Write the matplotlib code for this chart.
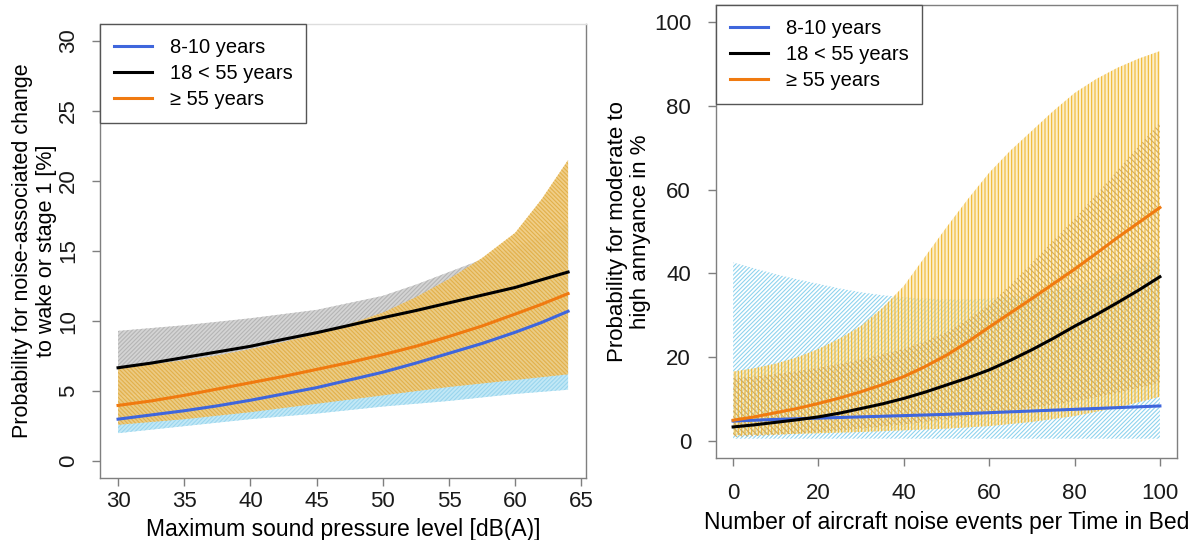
import numpy as np
import matplotlib.pyplot as plt

plt.rcParams['font.family'] = ['Liberation Sans', 'DejaVu Sans']
plt.rcParams['hatch.linewidth'] = 0.8

# ---- left panel: maximum sound pressure level ----
spl = [30, 32.5, 35, 37.5, 40, 42.5, 45, 47.5, 50, 52.5, 55, 57.5, 60, 62, 64]
kids_l = [3.0, 3.3, 3.6, 3.95, 4.35, 4.8, 5.25, 5.8, 6.35, 7.0, 7.7, 8.4, 9.2, 9.9, 10.7]
kids_l_lo = [2.0, 2.25, 2.5, 2.75, 3.0, 3.2, 3.4, 3.65, 3.9, 4.1, 4.3, 4.55, 4.8, 4.95, 5.1]
kids_l_hi = [4.4, 4.8, 5.2, 5.7, 6.2, 6.8, 7.5, 8.3, 9.2, 10.3, 11.4, 12.6, 14.0, 15.4, 17.0]
adult_l = [6.67, 7.0, 7.4, 7.8, 8.2, 8.7, 9.17, 9.7, 10.24, 10.75, 11.3, 11.85, 12.4, 12.95, 13.5]
adult_l_lo = [4.6, 4.95, 5.3, 5.65, 6.0, 6.45, 6.9, 7.35, 7.8, 8.25, 8.7, 9.25, 9.8, 10.4, 11.0]
adult_l_hi = [9.3, 9.5, 9.7, 9.95, 10.2, 10.5, 10.8, 11.3, 11.8, 12.6, 13.5, 14.4, 15.3, 16.1, 17.0]
old_l = [3.98, 4.3, 4.7, 5.15, 5.6, 6.05, 6.55, 7.05, 7.6, 8.2, 8.9, 9.65, 10.5, 11.2, 11.96]
old_l_lo = [2.6, 2.8, 3.0, 3.25, 3.5, 3.8, 4.1, 4.4, 4.7, 5.0, 5.3, 5.55, 5.8, 6.0, 6.2]
old_l_hi = [6.7, 6.9, 7.2, 7.55, 8.0, 8.5, 9.1, 9.8, 10.6, 11.7, 13.0, 14.5, 16.3, 18.7, 21.5]

# ---- right panel: number of aircraft noise events ----
events = [0, 5, 10, 15, 20, 25, 30, 35, 40, 45, 50, 55, 60, 65, 70, 75, 80, 85, 90, 95, 100]
kids_r = [4.8, 5.0, 5.2, 5.35, 5.5, 5.65, 5.8, 5.95, 6.1, 6.25, 6.4, 6.6, 6.8, 7.0,
          7.2, 7.4, 7.6, 7.8, 8.0, 8.2, 8.4]
kids_r_lo = [0.6] * 21
kids_r_hi = [42.6, 41.2, 39.8, 38.6, 37.5, 36.4, 35.5, 34.8, 34.3, 34.0, 33.8, 33.8,
             34.0, 34.4, 35.0, 35.9, 37.0, 38.4, 40.0, 41.9, 44.0]
adult_r = [3.4, 3.9, 4.5, 5.1, 5.8, 6.7, 7.8, 8.9, 10.2, 11.7, 13.4, 15.1, 17.0, 19.3,
           21.8, 24.5, 27.4, 30.1, 33.0, 36.0, 39.2]
adult_r_lo = [1.0, 1.2, 1.5, 1.8, 2.2, 2.6, 3.0, 3.5, 4.0, 4.6, 5.2, 5.8, 6.5, 7.2,
              8.0, 8.7, 9.5, 10.5, 11.5, 12.7, 14.0]
adult_r_hi = [15.0, 15.4, 16.0, 16.7, 17.5, 18.4, 19.5, 20.7, 22.0, 23.8, 26.0, 29.0,
              32.5, 37.3, 42.5, 47.8, 53.0, 58.7, 64.5, 70.3, 76.0]
old_r = [5.0, 5.8, 6.8, 7.8, 9.0, 10.3, 11.8, 13.5, 15.4, 17.8, 20.5, 23.7, 27.2, 30.6,
         34.0, 37.5, 41.0, 44.7, 48.5, 52.1, 55.7]
old_r_lo = [1.4, 1.5, 1.6, 1.75, 1.9, 2.05, 2.2, 2.4, 2.6, 2.8, 3.0, 3.3, 3.6, 4.1,
            4.6, 5.3, 6.0, 7.0, 8.0, 9.3, 10.6]
old_r_hi = [16.6, 17.4, 18.5, 20.0, 22.0, 24.5, 27.5, 31.8, 37.0, 44.0, 51.0, 57.7,
            64.0, 69.3, 74.0, 78.7, 83.0, 86.3, 89.0, 91.2, 93.0]

labels = ['8-10 years', '18 < 55 years', '\u2265 55 years']
c_kids, c_adult, c_old = '#3f66dc', 'black', '#f07a10'
frame = '#7f7f7f'

fig = plt.figure(figsize=(12.01, 5.4), dpi=100)
ax1 = fig.add_axes([0.0833, 0.1148, 0.4047, 0.8407])
ax2 = fig.add_axes([0.5962, 0.1519, 0.3838, 0.8389])


def band(ax, x, lo, hi, col, hatch, face='none', alpha=1.0):
    if face != 'none':
        ax.fill_between(x, lo, hi, facecolor=face, alpha=alpha, linewidth=0)
    ax.fill_between(x, lo, hi, facecolor='none', edgecolor=col,
                    hatch=hatch, linewidth=0)


# left
band(ax1, spl, adult_l_lo, adult_l_hi, '#b5b5b5', '////////', '#d4d4d4')
band(ax1, spl, kids_l_lo, kids_l_hi, '#9ad6ee', '////////', '#c2e8f6')
band(ax1, spl, old_l_lo, old_l_hi, '#e2b04a', '\\\\\\\\\\\\\\\\', '#efcb7e', 0.93)
ax1.plot(spl, kids_l, color=c_kids, lw=2.2, label=labels[0])
ax1.plot(spl, adult_l, color=c_adult, lw=2.2, label=labels[1])
ax1.plot(spl, old_l, color=c_old, lw=2.2, label=labels[2])
ax1.set_xlim(28.64, 65.36)
ax1.set_ylim(-1.2, 31.2)
ax1.set_xticks(range(30, 66, 5))
ax1.set_yticks(range(0, 31, 5))
ax1.tick_params(axis='y', labelrotation=90, pad=9)
for t in ax1.get_yticklabels():
    t.set_va('center')
ax1.set_xlabel('Maximum sound pressure level [dB(A)]', fontsize=16.5, labelpad=4)
ax1.set_ylabel('Probability for noise-associated change\nto wake or stage 1 [%]',
               fontsize=15.5, labelpad=1, linespacing=1.2)

# right
band(ax2, events, kids_r_lo, kids_r_hi, '#8fd3ee', '////////')
band(ax2, events, old_r_lo, old_r_hi, '#f0b830', '|||||', '#fbe2a4', 0.55)
band(ax2, events, adult_r_lo, adult_r_hi, '#d2aa5c', '\\\\\\\\\\\\')
ax2.plot(events, kids_r, color=c_kids, lw=2.2, label=labels[0])
ax2.plot(events, adult_r, color=c_adult, lw=2.2, label=labels[1])
ax2.plot(events, old_r, color=c_old, lw=2.2, label=labels[2])
ax2.set_xlim(-4, 104)
ax2.set_ylim(-4, 104)
ax2.set_xticks(range(0, 101, 20))
ax2.set_yticks(range(0, 101, 20))
ax2.tick_params(axis='y', pad=12)
ax2.tick_params(axis='x', pad=12)
ax2.set_xlabel('Number of aircraft noise events per Time in Bed', fontsize=16.5, labelpad=5)
ax2.set_ylabel('Probability for moderate to\nhigh annyance in %', fontsize=16,
               labelpad=2, linespacing=1.1)

for ax in (ax1, ax2):
    ax.tick_params(labelsize=16, length=6, width=1, color=frame, labelcolor='#1a1a1a')
    for s in ax.spines.values():
        s.set_color(frame)
        s.set_linewidth(1)
    leg = ax.legend(loc='upper left', bbox_to_anchor=(0, 1), borderaxespad=0,
                    fontsize=14.5, fancybox=False, framealpha=1, edgecolor='#555555',
                    handlelength=1.9, handletextpad=0.85, labelspacing=0.35,
                    borderpad=0.7)
    leg.get_frame().set_linewidth(1)
    for ln in leg.get_lines():
        ln.set_linewidth(2.2)
ax1.spines['top'].set_color('#dddddd')

fig.savefig('out.png', dpi=100)
